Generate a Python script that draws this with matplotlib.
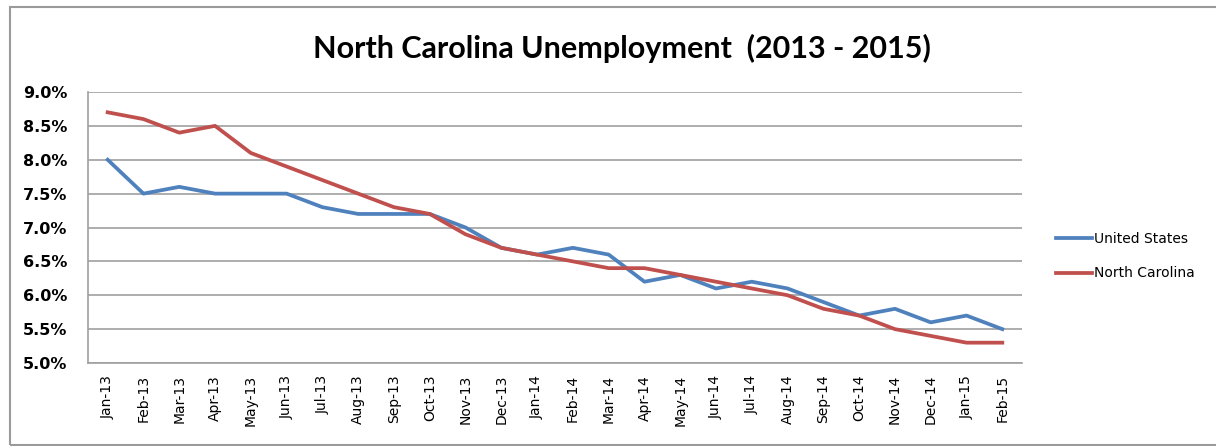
import numpy as np
import matplotlib
matplotlib.use('Agg')
import matplotlib.pyplot as plt
from matplotlib.patches import Rectangle
from matplotlib.ticker import FuncFormatter

months = ['Jan-13', 'Feb-13', 'Mar-13', 'Apr-13', 'May-13', 'Jun-13', 'Jul-13', 'Aug-13',
          'Sep-13', 'Oct-13', 'Nov-13', 'Dec-13', 'Jan-14', 'Feb-14', 'Mar-14', 'Apr-14',
          'May-14', 'Jun-14', 'Jul-14', 'Aug-14', 'Sep-14', 'Oct-14', 'Nov-14', 'Dec-14',
          'Jan-15', 'Feb-15']
us_rate = [8.0, 7.5, 7.6, 7.5, 7.5, 7.5, 7.3, 7.2, 7.2, 7.2, 7.0, 6.7, 6.6, 6.7, 6.6, 6.2,
           6.3, 6.1, 6.2, 6.1, 5.9, 5.7, 5.8, 5.6, 5.7, 5.5]
nc_rate = [8.7, 8.6, 8.4, 8.5, 8.1, 7.9, 7.7, 7.5, 7.3, 7.2, 6.9, 6.7, 6.6, 6.5, 6.4, 6.4,
           6.3, 6.2, 6.1, 6.0, 5.8, 5.7, 5.5, 5.4, 5.3, 5.3]
y_ticks = [5.0, 5.5, 6.0, 6.5, 7.0, 7.5, 8.0, 8.5, 9.0]

plt.rcParams['font.family'] = ['DejaVu Sans']

fig = plt.figure(figsize=(12.16, 4.46), dpi=100)
ax = fig.add_axes([88 / 1216, 83 / 446, 934 / 1216, 271 / 446])

# outer chart border (right side runs off the image)
fig.patches.append(Rectangle((10 / 1216, 1 / 446), 1.0, 438 / 446,
                             transform=fig.transFigure, fill=False,
                             edgecolor='#9a9a9a', linewidth=1.5))

x = np.arange(len(months))
ax.plot(x, us_rate, color='#4F81BD', linewidth=2.7, label='United States')
ax.plot(x, nc_rate, color='#C0504D', linewidth=2.7, label='North Carolina')

ax.set_xlim(-0.55, len(months) - 0.45)
ax.set_ylim(5.0, 9.0)
ax.set_yticks(y_ticks)
ax.yaxis.set_major_formatter(FuncFormatter(lambda v, p: '%.1f%%' % v))
ax.set_xticks(x)
ax.set_xticklabels(months, rotation=90, fontsize=10)
for lbl in ax.get_yticklabels():
    lbl.set_fontweight('bold')
    lbl.set_fontsize(11.5)

ax.tick_params(axis='both', length=0)
ax.tick_params(axis='y', pad=15)
ax.tick_params(axis='x', pad=8.5)
ax.grid(axis='y', color='#a0a0a0', linewidth=1.2)
ax.set_axisbelow(True)
for s in ['top', 'right']:
    ax.spines[s].set_visible(False)
for s in ['left', 'bottom']:
    ax.spines[s].set_color('#a0a0a0')
    ax.spines[s].set_linewidth(1.2)

fig.text(622 / 1216, 1 - 48 / 446, 'North Carolina Unemployment  (2013 - 2015)',
         ha='center', va='center', fontsize=22, fontweight='bold', family=['Lato', 'DejaVu Sans'])

leg = fig.legend(loc='center left', bbox_to_anchor=(1043 / 1216, 1 - 256 / 446),
                 frameon=False, fontsize=10, handlelength=2.6, handletextpad=0.2,
                 labelspacing=1.5)

fig.savefig('out.png', dpi=100)
